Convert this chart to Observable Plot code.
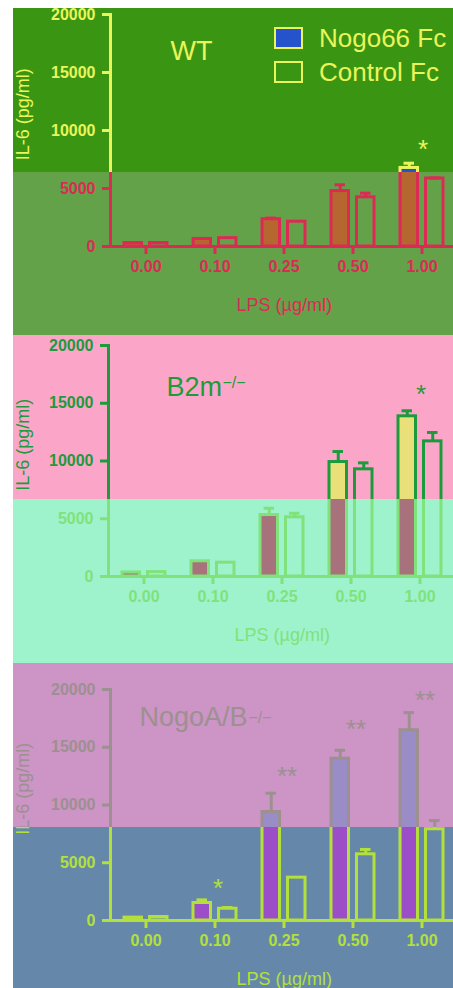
<!DOCTYPE html>
<html><head><meta charset="utf-8">
<script src="https://cdn.jsdelivr.net/npm/d3@7"></script>
<script src="https://cdn.jsdelivr.net/npm/@observablehq/plot@0.6"></script>
<style>
body{margin:0;background:#fff;font-family:"Liberation Sans",Arial,sans-serif}
#root{position:relative;width:453px;height:988px;overflow:hidden;background:#fff}
.panel{position:absolute;left:13px;width:440px;overflow:hidden}
.layer{position:absolute;left:0;top:0;width:440px;overflow:hidden}
.layer svg{display:block;overflow:visible;max-width:none !important}
#legend{position:absolute;left:274px;top:21px;z-index:5;color:#eaf55c;font-size:26px;line-height:34px}
#legend .row{display:flex;align-items:center;height:34px}
#legend .sw{width:25px;height:18px;border:2px solid #eaf55c;margin-right:16px;box-sizing:content-box}
</style></head><body><div id="root"></div>
<script>
// ---------- data ----------
const doses = ["0.00", "0.10", "0.25", "0.50", "1.00"];
const yTicks = [0, 5000, 10000, 15000, 20000];
const seriesNames = ["Nogo66 Fc", "Control Fc"];

const wtNogo = [300, 650, 2350, 4780, 6770];
const wtNogoErr = [0, 0, 100, 540, 410];
const wtCtrl = [300, 720, 2140, 4240, 5860];
const wtCtrlErr = [0, 0, 0, 360, 50];
const wtStarDoses = ["1.00"];
const wtStarY = [8700];
const wtStarText = ["*"];

const b2mNogo = [350, 1320, 5320, 9910, 13870];
const b2mNogoErr = [0, 0, 590, 910, 480];
const b2mCtrl = [380, 1195, 5125, 9280, 11700];
const b2mCtrlErr = [0, 0, 350, 560, 770];
const b2mStarDoses = ["1.00"];
const b2mStarY = [16100];
const b2mStarText = ["*"];

const nabNogo = [250, 1515, 9390, 14010, 16470];
const nabNogoErr = [0, 270, 1630, 730, 1530];
const nabCtrl = [300, 1020, 3710, 5730, 7900];
const nabCtrlErr = [0, 100, 0, 420, 760];
const nabStarDoses = ["0.10", "0.25", "0.50", "1.00"];
const nabStarY = [3120, 12750, 16880, 19390];
const nabStarText = ["*", "**", "**", "**"];

const yLabel = "IL-6 (pg/ml)";
const xLabel = "LPS (µg/ml)";
const yLabelAt = 11400;

// ---------- layout / styles ----------
const panels = [
  {name: "WT", sup: "", nogo: wtNogo, nogoErr: wtNogoErr, ctrl: wtCtrl, ctrlErr: wtCtrlErr,
   starDoses: wtStarDoses, starY: wtStarY, starText: wtStarText,
   top: 0, h: 335, ml: 97, mt: 14, zero: 246, split: 172, white: 8,
   nameDx: 60, nameDy: 45, supDx: 0, supDy: 0, starDx: 1,
   schemes: [{bg: "#3a9612", ink: "#eaf55c", fill: "#2553cc"}, {bg: "#64a24a", ink: "#dc2a55", fill: "#b5672f"}]},
  {name: "B2m", sup: "−/−", nogo: b2mNogo, nogoErr: b2mNogoErr, ctrl: b2mCtrl, ctrlErr: b2mCtrlErr,
   starDoses: b2mStarDoses, starY: b2mStarY, starText: b2mStarText,
   top: 335, h: 328, ml: 95, mt: 10, zero: 241, split: 164, white: 0,
   nameDx: 58, nameDy: 50, supDx: 114, supDy: 42, starDx: 1,
   schemes: [{bg: "#fba6c8", ink: "#1d9a3c", fill: "#e9e07a"}, {bg: "#9ef3cc", ink: "#80e27a", fill: "#a8727c"}]},
  {name: "NogoA/B", sup: "−/−", nogo: nabNogo, nogoErr: nabNogoErr, ctrl: nabCtrl, ctrlErr: nabCtrlErr,
   starDoses: nabStarDoses, starY: nabStarY, starText: nabStarText,
   top: 663, h: 325, ml: 97, mt: 26, zero: 257, split: 164, white: 0,
   nameDx: 29, nameDy: 36, supDx: 138, supDy: 33, starDx: 3,
   schemes: [{bg: "#cd94c6", ink: "#9c9090", fill: "#9a8cc6"}, {bg: "#6588aa", ink: "#b3e03a", fill: "#9c4ec8"}]}
];
const W = 460, STEP = 69.5;

function chart(p, s) {
  const nogo = doses.map((d, i) => ({dose: d, value: p.nogo[i], err: p.nogoErr[i]}));
  const ctrl = doses.map((d, i) => ({dose: d, value: p.ctrl[i], err: p.ctrlErr[i]}));
  const stars = p.starDoses.map((d, i) => ({dose: d, y: p.starY[i], label: p.starText[i]}));
  const hasErr = d => d.err > 0;
  const marks = [
    Plot.barY(nogo, {x: "dose", y: "value", insetLeft: 13, insetRight: 38.5, fill: s.fill, stroke: "currentColor", strokeWidth: 3}),
    Plot.barY(ctrl, {x: "dose", y: "value", insetLeft: 38.5, insetRight: 13, fill: "none", stroke: "currentColor", strokeWidth: 3}),
    Plot.ruleX(nogo.filter(hasErr), {x: "dose", y1: "value", y2: d => d.value + d.err, dx: -12.75, strokeWidth: 3}),
    Plot.ruleX(ctrl.filter(hasErr), {x: "dose", y1: "value", y2: d => d.value + d.err, dx: 12.75, strokeWidth: 3}),
    Plot.tickY(nogo.filter(hasErr), {x: "dose", y: d => d.value + d.err, insetLeft: 16.5, insetRight: 42, strokeWidth: 3}),
    Plot.tickY(ctrl.filter(hasErr), {x: "dose", y: d => d.value + d.err, insetLeft: 42, insetRight: 16.5, strokeWidth: 3}),
    Plot.frame({anchor: "left", strokeWidth: 3}),
    Plot.ruleY([0], {insetLeft: -8, insetRight: -30, strokeWidth: 3}),
    Plot.axisY(yTicks, {tickSize: 8, tickPadding: 7, strokeWidth: 3, fontSize: 16, fontWeight: "bold", label: null, tickFormat: d => String(d)}),
    Plot.axisX({tickSize: 8, tickPadding: 6, strokeWidth: 3, fontSize: 16, fontWeight: "bold", label: null}),
    Plot.text([xLabel], {frameAnchor: "bottom", textAnchor: "middle", lineAnchor: "bottom", dy: 64, fontSize: 18}),
    Plot.text([yLabel], {frameAnchor: "left", textAnchor: "middle", lineAnchor: "middle", y: [yLabelAt], rotate: -90, dx: 9.5 - p.ml, fontSize: 18}),
    Plot.text([p.name], {frameAnchor: "top-left", textAnchor: "start", lineAnchor: "bottom", dx: p.nameDx, dy: p.nameDy, fontSize: 27}),
    Plot.text(stars, {x: "dose", y: "y", text: "label", fontSize: 26, dx: p.starDx, dy: 3.8})
  ];
  if (p.sup) marks.push(Plot.text([p.sup], {frameAnchor: "top-left", textAnchor: "start", lineAnchor: "bottom", dx: p.supDx, dy: p.supDy, fontSize: 16}));
  return Plot.plot({
    width: W, height: p.h,
    marginLeft: p.ml, marginRight: W - p.ml - STEP * doses.length,
    marginTop: p.mt, marginBottom: p.h - p.zero,
    x: {type: "band", domain: doses, padding: 0, axis: null},
    y: {domain: [0, 20000], axis: null},
    style: {fontFamily: "'Liberation Sans', Arial, sans-serif", background: "transparent", color: s.ink, overflow: "visible", maxWidth: "none"},
    marks
  });
}

const root = document.getElementById("root");
for (const p of panels) {
  const panel = document.createElement("div");
  panel.className = "panel";
  panel.style.top = p.top + "px";
  panel.style.height = p.h + "px";
  p.schemes.forEach((s, k) => {
    const layer = document.createElement("div");
    layer.className = "layer";
    layer.style.height = p.h + "px";
    layer.style.background = (k === 0 && p.white)
      ? `linear-gradient(to bottom, #fff 0, #fff ${p.white}px, ${s.bg} ${p.white}px)`
      : s.bg;
    layer.style.clipPath = k === 0 ? `inset(0 0 ${p.h - p.split}px 0)` : `inset(${p.split}px 0 0 0)`;
    layer.appendChild(chart(p, s));
    panel.appendChild(layer);
  });
  root.appendChild(panel);
}

// legend (in the top band of the first panel)
const legendFills = [panels[0].schemes[0].fill, "transparent"];
const legend = document.createElement("div");
legend.id = "legend";
seriesNames.forEach((n, i) => {
  const row = document.createElement("div");
  row.className = "row";
  const sw = document.createElement("span");
  sw.className = "sw";
  sw.style.background = legendFills[i];
  const t = document.createElement("span");
  t.textContent = n;
  row.appendChild(sw); row.appendChild(t);
  legend.appendChild(row);
});
root.appendChild(legend);
</script></body></html>
